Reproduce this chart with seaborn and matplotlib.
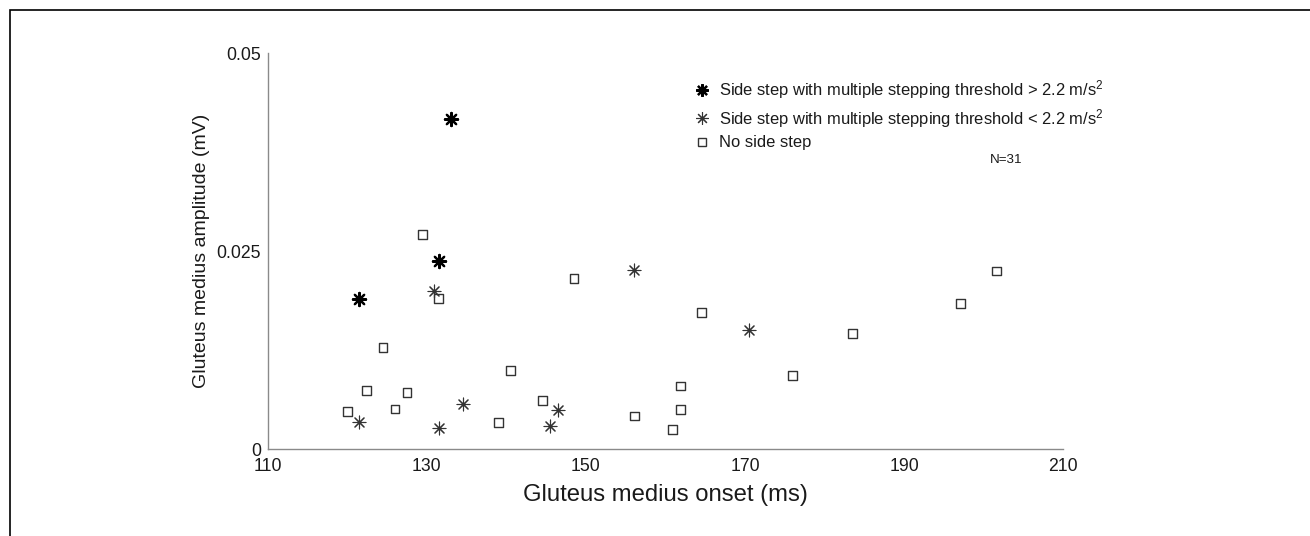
import numpy as np
import pandas as pd
import matplotlib
matplotlib.use("Agg")
import matplotlib.pyplot as plt
import seaborn as sns
from matplotlib.lines import Line2D
from matplotlib.patches import Rectangle

# ---- data ----
hi_onset = [133.0, 131.5, 121.5]
hi_amp = [0.0417, 0.0238, 0.0190]

lo_onset = [130.9, 156.1, 170.5, 121.5, 134.5, 131.5, 146.5, 145.5]
lo_amp = [0.0200, 0.0226, 0.0151, 0.0034, 0.0057, 0.0027, 0.0050, 0.0029]

no_onset = [129.5, 131.5, 124.5, 148.5, 140.5, 122.4, 127.5, 120.0, 126.0, 139.0,
            144.5, 156.1, 164.5, 183.5, 197.1, 201.6, 176.0, 161.9, 161.9, 160.9]
no_amp = [0.0271, 0.0190, 0.0129, 0.0216, 0.0099, 0.0074, 0.0072, 0.0048, 0.0051, 0.0034,
          0.0062, 0.0042, 0.0173, 0.0146, 0.0184, 0.0225, 0.0093, 0.0080, 0.0050, 0.0025]

labels = [r"Side step with multiple stepping threshold > 2.2 m/s$^{2}$",
          r"Side step with multiple stepping threshold < 2.2 m/s$^{2}$",
          "No side step"]
x_ticks = [110, 130, 150, 170, 190, 210]
y_ticks = [0, 0.025, 0.05]
y_ticklabels = ["0", "0.025", "0.05"]
n_text = "N=31"

sns.set_style("white")
plt.rcParams["font.family"] = ["Liberation Sans", "DejaVu Sans"]
plt.rcParams["mathtext.fontset"] = "custom"
plt.rcParams["mathtext.rm"] = "Liberation Sans"
plt.rcParams["mathtext.it"] = "Liberation Sans:italic"
plt.rcParams["mathtext.bf"] = "Liberation Sans:bold"

W, H = 1310, 536
fig = plt.figure(figsize=(W / 100, H / 100), dpi=100)
L, R, B, T = 267.7, 1063.3, 449.3, 53.3
ax = fig.add_axes([L / W, 1 - B / H, (R - L) / W, (B - T) / H])

star = (8, 2, 0)
df_no = pd.DataFrame({"onset": no_onset, "amp": no_amp})
df_lo = pd.DataFrame({"onset": lo_onset, "amp": lo_amp})
df_hi = pd.DataFrame({"onset": hi_onset, "amp": hi_amp})

sns.scatterplot(data=df_no, x="onset", y="amp", marker="s", s=40,
                facecolor="none", edgecolor="#333333", linewidth=1.0, ax=ax, legend=False)
sns.scatterplot(data=df_lo, x="onset", y="amp", marker=star, s=85,
                color="#333333", linewidth=0.8, ax=ax, legend=False)
sns.scatterplot(data=df_hi, x="onset", y="amp", marker=star, s=90,
                color="black", linewidth=1.6, ax=ax, legend=False)

ax.set_xlim(110, 210)
ax.set_ylim(0, 0.05)
ax.set_xticks(x_ticks)
ax.set_xticklabels([str(v) for v in x_ticks])
ax.set_yticks(y_ticks)
ax.set_yticklabels(y_ticklabels)

for s in ["top", "right"]:
    ax.spines[s].set_visible(False)
for s in ["left", "bottom"]:
    ax.spines[s].set_color("#8a8a8a")
    ax.spines[s].set_linewidth(1.0)
ax.tick_params(axis="both", direction="in", length=5, width=1.0, color="#8a8a8a",
               labelsize=12.7, labelcolor="#1a1a1a")
ax.tick_params(axis="x", pad=6)
ax.tick_params(axis="y", pad=5)

ax.set_xlabel("Gluteus medius onset (ms)", fontsize=17.2, color="#1a1a1a", va="center")
ax.xaxis.set_label_coords(0.5, (B - 495) / (B - T))
ax.set_ylabel("Gluteus medius amplitude (mV)", fontsize=14, color="#1a1a1a", va="center")
ax.yaxis.set_label_coords((201 - L) / (R - L), 0.5)

handles = [
    Line2D([], [], marker=star, linestyle="none", color="black", markersize=9, markeredgewidth=1.6),
    Line2D([], [], marker=star, linestyle="none", color="#333333", markersize=9, markeredgewidth=0.8),
    Line2D([], [], marker="s", linestyle="none", markerfacecolor="none", markeredgecolor="#333333",
           markersize=6, markeredgewidth=1.0),
]
leg = ax.legend(handles, labels, loc="upper left", bbox_to_anchor=(694 / W, 1 - 78 / H),
                bbox_transform=fig.transFigure, frameon=False, fontsize=11.9,
                handlelength=1.0, handletextpad=0.5, labelspacing=0.35,
                borderpad=0, borderaxespad=0)
for t in leg.get_texts():
    t.set_color("#1a1a1a")

fig.text(1006 / W, 1 - 160 / H, n_text, ha="center", va="center", fontsize=9.6, color="#1a1a1a")

fig.add_artist(Rectangle((9.5 / W, -0.2), 1.2, 1 - 10 / H + 0.2, transform=fig.transFigure,
                         fill=False, edgecolor="black", linewidth=1.2, clip_on=False))

fig.savefig("out.png", dpi=100)
